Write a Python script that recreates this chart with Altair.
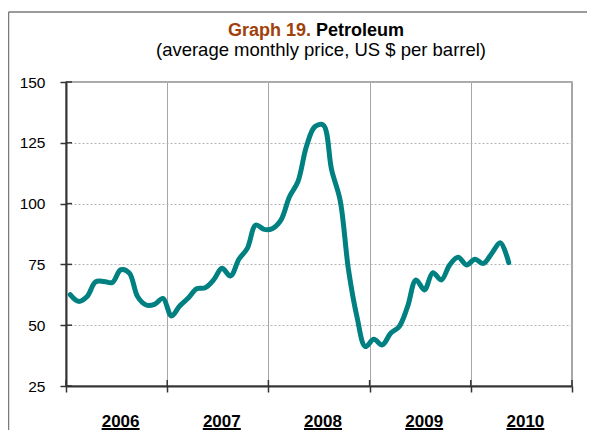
import altair as alt
import pandas as pd

# ---- data ----
years = ["2006", "2007", "2008", "2009", "2010"]
prices_2006 = [62.6, 59.8, 61.8, 67.8, 68.0, 67.6, 72.8, 71.5, 61.7, 58.3, 58.6, 61.0]
prices_2007 = [53.8, 58.0, 61.2, 65.0, 65.4, 68.6, 73.4, 70.2, 77.1, 81.6, 91.2, 89.4]
prices_2008 = [89.8, 93.3, 102.8, 109.0, 123.4, 131.6, 132.3, 113.8, 101.5, 72.7, 53.5, 41.2]
prices_2009 = [44.2, 41.9, 46.7, 49.4, 57.6, 68.6, 64.5, 71.6, 68.6, 74.8, 77.9, 74.8]
prices_2010 = [77.1, 75.4, 79.6, 83.9, 75.7]
y_ticks = [25, 50, 75, 100, 125, 150]

prices = prices_2006 + prices_2007 + prices_2008 + prices_2009 + prices_2010
line_df = pd.DataFrame({"month": [i + 0.5 for i in range(len(prices))], "price": prices})
bounds_df = pd.DataFrame({"b": [12 * i for i in range(len(years) + 1)]})
labels_df = pd.DataFrame({"year": years, "c": [12 * i + 6 for i in range(len(years))]})
yt_df = pd.DataFrame({"v": y_ticks})

W, H = 506, 304
PAD = {"left": 58, "top": 74, "right": 15, "bottom": 44}
FONT = "Liberation Sans"

xscale = alt.Scale(domain=[0, 60], nice=False, zero=False)
yscale = alt.Scale(domain=[25, 150], nice=False, zero=False)

line = alt.Chart(line_df).mark_line(
    interpolate="catmull-rom", strokeWidth=5, color="#008080",
    strokeCap="round", strokeJoin="round"
).encode(
    x=alt.X("month:Q", scale=xscale, axis=alt.Axis(
        values=[12 * i for i in range(len(years) + 1)], labels=False, title=None,
        grid=True, gridColor="#a6a6a6", gridWidth=1,
        domainColor="#333333", domainWidth=2, tickColor="#333333",
        tickSize=6, tickWidth=1.5)),
    y=alt.Y("price:Q", scale=yscale, axis=alt.Axis(
        values=y_ticks, title=None, grid=True, gridColor="#b4b4b4",
        gridDash=[2, 2], gridWidth=1, domainColor="#333333", domainWidth=2,
        tickColor="#333333", tickSize=6, tickWidth=1.5, labelFont=FONT,
        labelFontSize=15.5, labelColor="#000000", labelPadding=15)),
)

# inner halves of the crossing tick marks
xticks_in = alt.Chart(bounds_df).mark_rule(color="#333333", strokeWidth=1.5).encode(
    x=alt.X("b:Q", scale=xscale), y=alt.value(H - 6), y2=alt.value(H))
yticks_in = alt.Chart(yt_df).mark_rule(color="#333333", strokeWidth=1.5).encode(
    y=alt.Y("v:Q", scale=yscale), x=alt.value(0), x2=alt.value(6))

year_text = alt.Chart(labels_df).mark_text(
    font=FONT, fontSize=17, fontWeight="bold", color="#000000",
    baseline="alphabetic", align="center", dx=4
).encode(x=alt.X("c:Q", scale=xscale), y=alt.value(H + 40.5), text="year:N")
year_ul = alt.Chart(labels_df).mark_rule(
    color="#000000", strokeWidth=2.2, xOffset=4 - 19, x2Offset=4 + 19
).encode(x=alt.X("c:Q", scale=xscale), x2="c:Q", y=alt.value(H + 43))

title_df = pd.DataFrame({"a": [0]})
t1 = alt.Chart(title_df).mark_text(
    text="Graph 19.", font=FONT, fontSize=18, fontWeight="bold", color="#A0400A",
    align="right", baseline="alphabetic"
).encode(x=alt.value(245), y=alt.value(-46.5))
t2 = alt.Chart(title_df).mark_text(
    text="Petroleum", font=FONT, fontSize=18, fontWeight="bold", color="#000000",
    align="left", baseline="alphabetic"
).encode(x=alt.value(250), y=alt.value(-46.5))
t3 = alt.Chart(title_df).mark_text(
    text="(average monthly price, US $ per barrel)", font=FONT, fontSize=18.5,
    color="#000000", align="center", baseline="alphabetic"
).encode(x=alt.value(255), y=alt.value(-26))

frame_top = alt.Chart(title_df).mark_rule(color="#7a7a7a", strokeWidth=1.5).encode(
    x=alt.value(-57.5), x2=alt.value(W + PAD["right"]), y=alt.value(-70))
frame_left = alt.Chart(title_df).mark_rule(color="#7a7a7a", strokeWidth=1.5).encode(
    x=alt.value(-57.5), y=alt.value(-70), y2=alt.value(H + PAD["bottom"]))

chart = alt.layer(
    frame_top, frame_left, line, xticks_in, yticks_in, year_text, year_ul, t1, t2, t3
).properties(
    width=W, height=H, autosize=alt.AutoSizeParams(type="none"), padding=PAD
).configure_view(stroke="#8c8c8c", strokeWidth=1.5)

chart.save("out.html", embed_options={"renderer": "svg", "actions": False})
